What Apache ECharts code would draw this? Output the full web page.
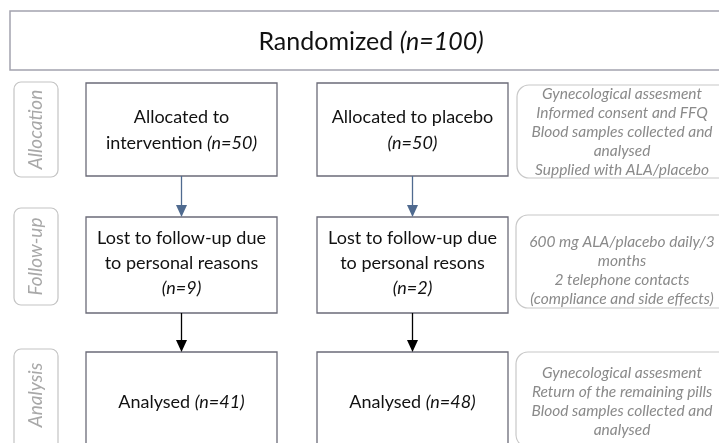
<!DOCTYPE html>
<html>
<head>
    <meta charset="UTF-8">
    <title>Flow diagram</title>
    <script src="https://cdn.jsdelivr.net/npm/echarts@6/dist/echarts.min.js"></script>
    <style>
        html, body { margin: 0; padding: 0; background: #fff; }
        #container { width: 719px; height: 443px; }
    </style>
</head>
<body>
    <div id="container"></div>
<script>
    // data
    var totalN = 100;
    var stages = ['Allocation', 'Follow-up', 'Analysis'];
    var allocatedLines = [['Allocated to', 'intervention'], ['Allocated to placebo', '']];
    var allocatedN = [50, 50];
    var lostLines = [['Lost to follow-up due', 'to personal reasons'], ['Lost to follow-up due', 'to personal resons']];
    var lostN = [9, 2];
    var analysedN = [41, 48];
    var stageNotes = [
        ['Gynecological assesment', 'Informed consent and FFQ', 'Blood samples collected and', 'analysed', 'Supplied with ALA/placebo'],
        ['600 mg ALA/placebo daily/3', 'months', '2 telephone contacts', '(compliance and side effects)'],
        ['Gynecological assesment', 'Return of the remaining pills', 'Blood samples collected and', 'analysed']
    ];

    // layout
    var FONT = 'Lato, "Liberation Sans", sans-serif';
    var colX = [86, 317];
    var boxW = 191;
    var rowTop = [83, 217, 352];
    var rowH = [93, 96, 110];
    var labelBox = [[14, 82, 44, 95], [14, 208, 44, 97], [14, 349, 44, 110]];
    var noteBox = [[517, 85, 230, 93], [516, 215, 230, 93], [516, 352, 230, 95]];
    var noteMid = [132, 270, 401];
    var arrowColor = ['#4f6a8f', '#000000'];

    var italicRich = { i: { fontStyle: 'italic', fontSize: 18, fontFamily: FONT, fill: '#111' } };

    function rect(x, y, w, h, stroke, r, lw) {
        return {
            type: 'rect', shape: { x: x, y: y, width: w, height: h, r: r || 0 },
            style: { fill: '#fff', stroke: stroke, lineWidth: lw || 1.3 }
        };
    }
    function text(str, x, y, opt) {
        return {
            type: 'text', x: x, y: y, rotation: opt.rotation || 0,
            style: {
                text: str, x: 0, y: 0, align: 'center', verticalAlign: 'middle',
                fontSize: opt.fontSize || 18, fontFamily: FONT, fill: opt.fill || '#111',
                fontStyle: opt.fontStyle || 'normal', lineHeight: opt.lineHeight || 25,
                rich: opt.rich
            }
        };
    }
    function arrow(x, y1, y2, color) {
        return [
            { type: 'line', shape: { x1: x, y1: y1, x2: x, y2: y2 - 9 }, style: { stroke: color, lineWidth: 1.3 } },
            { type: 'polygon', shape: { points: [[x - 5.5, y2 - 12], [x + 5.5, y2 - 12], [x, y2]] }, style: { fill: color } }
        ];
    }

    var elements = [];
    // top box
    elements.push(rect(10, 11, 760, 59, '#a3a3ae', 0, 1.5));
    elements.push(text('Randomized {i|(n=' + totalN + ')}', 371, 42, {
        fontSize: 25, rich: { i: { fontStyle: 'italic', fontSize: 25, fontFamily: FONT, fill: '#111' } }
    }));

    // stage labels
    stages.forEach(function (s, k) {
        var b = labelBox[k];
        elements.push(rect(b[0], b[1], b[2], b[3], '#c4c4c4', 7, 1.2));
        var cy = k === 2 ? b[1] + 46 : b[1] + b[3] / 2;
        elements.push(text(s, b[0] + b[2] / 2, cy, { fontSize: 19, fill: '#a8a8a8', fontStyle: 'italic', rotation: Math.PI / 2 }));
    });

    // notes
    stageNotes.forEach(function (lines, k) {
        var b = noteBox[k];
        elements.push(rect(b[0], b[1], b[2], b[3], '#c8c8c8', 12, 1.2));
        elements.push(text(lines.join('\n'), 622, noteMid[k], {
            fontSize: 15.5, fill: '#8a8a8a', fontStyle: 'italic', lineHeight: 19
        }));
    });

    // main boxes
    for (var c = 0; c < 2; c++) {
        var cx = colX[c] + boxW / 2;
        // allocation
        elements.push(rect(colX[c], rowTop[0], boxW, rowH[0], '#6b6b78'));
        var al = allocatedLines[c];
        var alText = al[1] ? al[0] + '\n' + al[1] + ' {i|(n=' + allocatedN[c] + ')}' : al[0] + '\n{i|(n=' + allocatedN[c] + ')}';
        elements.push(text(alText, cx, rowTop[0] + rowH[0] / 2 + 1, { rich: italicRich, lineHeight: 26 }));
        // follow-up
        elements.push(rect(colX[c], rowTop[1], boxW, rowH[1], '#6b6b78'));
        elements.push(text(lostLines[c][0] + '\n' + lostLines[c][1] + '\n{i|(n=' + lostN[c] + ')}', cx, rowTop[1] + rowH[1] / 2 - 2, { rich: italicRich, lineHeight: 25 }));
        // analysis
        elements.push(rect(colX[c], rowTop[2], boxW, rowH[2], '#6b6b78'));
        elements.push(text('Analysed {i|(n=' + analysedN[c] + ')}', cx, 402, { rich: italicRich }));
        // arrows
        elements = elements.concat(arrow(cx, rowTop[0] + rowH[0], rowTop[1], arrowColor[0]));
        elements = elements.concat(arrow(cx, rowTop[1] + rowH[1], rowTop[2], arrowColor[1]));
    }

    var mycharts = echarts.init(document.getElementById('container'), null, { renderer: 'canvas' });
    mycharts.setOption({
        animation: false,
        backgroundColor: '#fff',
        graphic: { elements: elements }
    });
</script>
</body>
</html>
